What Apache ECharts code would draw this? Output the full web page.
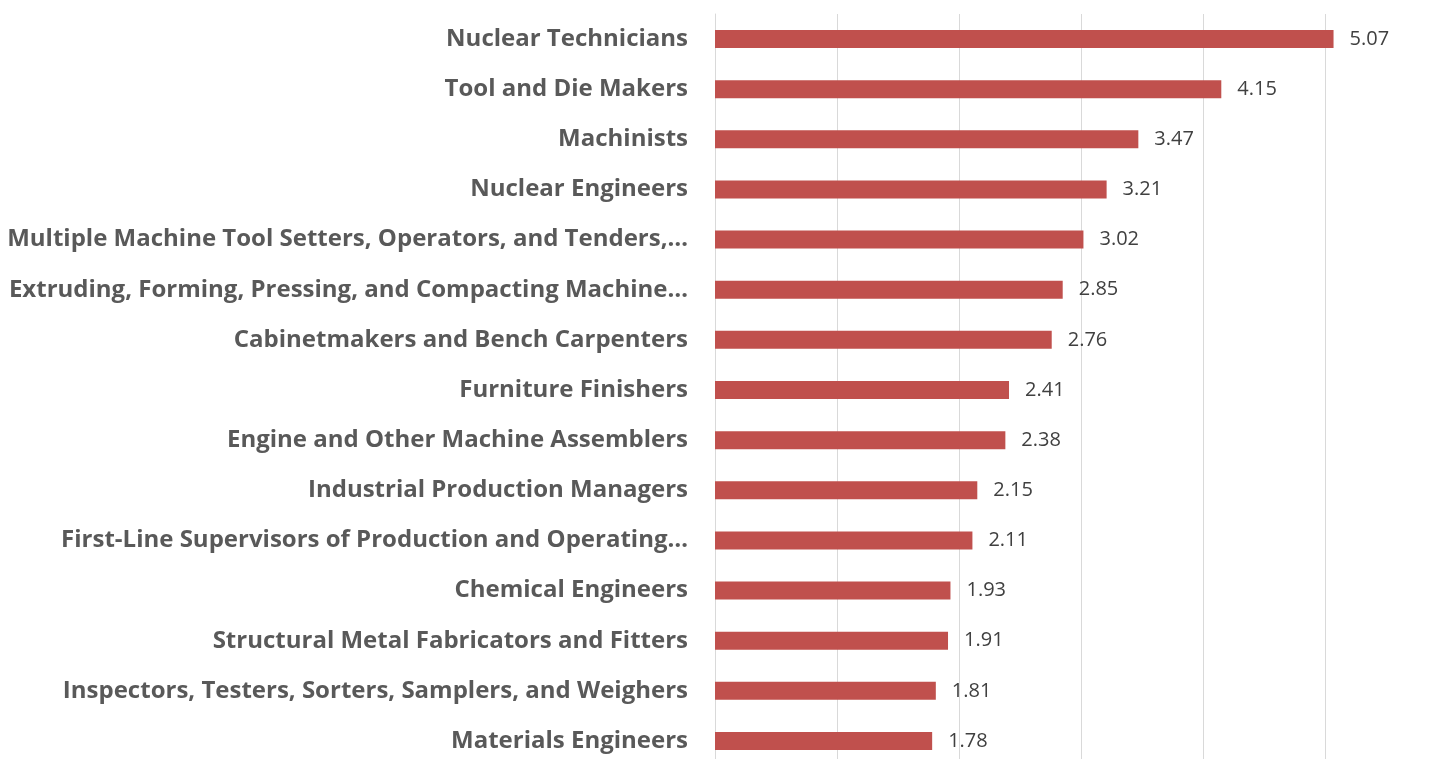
<!DOCTYPE html>
<html><head><meta charset="utf-8">
<script src="https://cdn.jsdelivr.net/npm/echarts@6/dist/echarts.min.js"></script>
<style>html,body{margin:0;padding:0;background:#fff;overflow:hidden}#c{width:1460px;height:780px}</style>
</head><body><div id="c"></div>
<script>
const categories = [
  "Nuclear Technicians",
  "Tool and Die Makers",
  "Machinists",
  "Nuclear Engineers",
  "Multiple Machine Tool Setters, Operators, and Tenders,…",
  "Extruding, Forming, Pressing, and Compacting Machine…",
  "Cabinetmakers and Bench Carpenters",
  "Furniture Finishers",
  "Engine and Other Machine Assemblers",
  "Industrial Production Managers",
  "First-Line Supervisors of Production and Operating…",
  "Chemical Engineers",
  "Structural Metal Fabricators and Fitters",
  "Inspectors, Testers, Sorters, Samplers, and Weighers",
  "Materials Engineers"
];
const values = [5.07, 4.15, 3.47, 3.21, 3.02, 2.85, 2.76, 2.41, 2.38, 2.15, 2.11, 1.93, 1.91, 1.81, 1.78];

const chart = echarts.init(document.getElementById('c'));
chart.setOption({
  animation: false,
  grid: { left: 715, top: 14, width: 732, height: 752, containLabel: false },
  xAxis: {
    type: 'value', min: 0, max: 6, interval: 1,
    axisLabel: { show: false },
    axisLine: { show: false }, axisTick: { show: false },
    splitLine: { show: true, lineStyle: { color: '#D9D9D9', width: 1 } }
  },
  yAxis: {
    type: 'category', data: categories, inverse: true,
    axisLine: { show: true, lineStyle: { color: '#D9D9D9' } },
    axisTick: { show: false },
    axisLabel: { color: '#595959', fontFamily: 'Open Sans', fontWeight: 'bold', fontSize: 24, margin: 27 }
  },
  series: [{
    type: 'bar', data: values, barWidth: 18,
    itemStyle: { color: '#C0504D' },
    label: { show: true, position: 'right', distance: 16, color: '#404040', fontFamily: 'Open Sans', fontSize: 20,
      formatter: p => p.value.toFixed(2) }
  }]
});
</script></body></html>
